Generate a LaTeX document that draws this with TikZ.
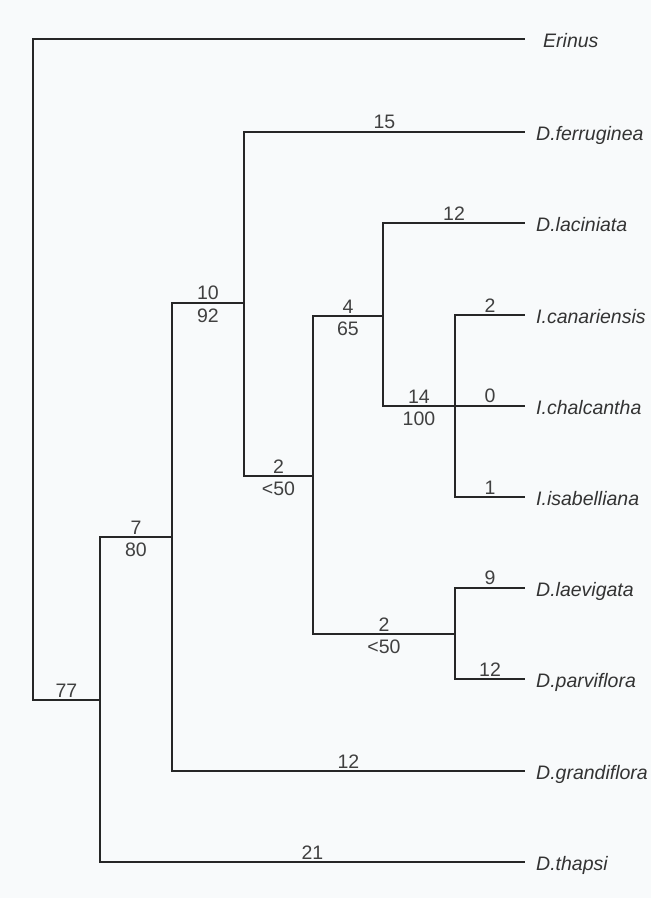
\documentclass[tikz,border=0pt]{standalone}
\usepackage{fontspec}
\setmainfont{Liberation Sans}
\definecolor{bgc}{RGB}{248,250,251}
\begin{document}
\begin{tikzpicture}[x=1pt,y=-1pt,
  br/.style={line width=1.8pt, draw=black!85, line join=miter},
  num/.style={font=\fontsize{19.5}{20}\selectfont, text=black!75, inner sep=2pt},
  numb/.style={num, yshift=-2.5pt},
  taxon/.style={anchor=base west, font=\fontsize{19.5}{21}\selectfont\itshape, text=black!80, inner sep=0pt, yshift=-8.5pt, xshift=11pt}]
\fill[bgc] (0,0) rectangle (651,898);
\useasboundingbox (0,0) rectangle (651,898);
% internal nodes
\coordinate (root) at (33,370);
\coordinate (n77) at (100,700);
\coordinate (n7) at (172,537);
\coordinate (n10) at (244,303);
\coordinate (n2a) at (313,476);
\coordinate (n4) at (383,316);
\coordinate (n14) at (455,406);
\coordinate (n2b) at (455,634);
% leaf ends
\coordinate (erin) at (525,39);
\coordinate (ferr) at (525,132);
\coordinate (laci) at (525,223);
\coordinate (cana) at (525,315);
\coordinate (chal) at (525,406);
\coordinate (isab) at (525,497);
\coordinate (laev) at (525,588);
\coordinate (parv) at (525,679);
\coordinate (gran) at (525,771);
\coordinate (thap) at (525,862);
% taxon labels
\node[taxon, xshift=7pt] (Lerin) at (erin) {Erinus};
\node[taxon] (Lferr) at (ferr) {D.ferruginea};
\node[taxon] (Llaci) at (laci) {D.laciniata};
\node[taxon] (Lcana) at (cana) {I.canariensis};
\node[taxon] (Lchal) at (chal) {I.chalcantha};
\node[taxon] (Lisab) at (isab) {I.isabelliana};
\node[taxon] (Llaev) at (laev) {D.laevigata};
\node[taxon] (Lparv) at (parv) {D.parviflora};
\node[taxon] (Lgran) at (gran) {D.grandiflora};
\node[taxon] (Lthap) at (thap) {D.thapsi};
% branches
\draw[br] (root) |- (erin);
\draw[br] (root) |- (n77) node[num, pos=0.75, above] {77};
\draw[br] (n77) |- (n7) node[num, pos=0.75, above] {7} node[numb, pos=0.75, below] {80};
\draw[br] (n77) |- (thap) node[num, pos=0.75, above] {21};
\draw[br] (n7) |- (n10) node[num, pos=0.75, above] {10} node[numb, pos=0.75, below] {92};
\draw[br] (n7) |- (gran) node[num, pos=0.75, above] {12};
\draw[br] (n10) |- (ferr) node[num, pos=0.75, above] {15};
\draw[br] (n10) |- (n2a) node[num, pos=0.75, above] {2} node[numb, pos=0.75, below] {<50};
\draw[br] (n2a) |- (n4) node[num, pos=0.75, above] {4} node[numb, pos=0.75, below] {65};
\draw[br] (n2a) |- (n2b) node[num, pos=0.75, above] {2} node[numb, pos=0.75, below] {<50};
\draw[br] (n4) |- (laci) node[num, pos=0.75, above] {12};
\draw[br] (n4) |- (n14) node[num, pos=0.75, above] {14} node[numb, pos=0.75, below] {100};
\draw[br] (n14) |- (cana) node[num, pos=0.75, above] {2};
\draw[br] (n14) -- (chal) node[num, midway, above] {0};
\draw[br] (n14) |- (isab) node[num, pos=0.75, above] {1};
\draw[br] (n2b) |- (laev) node[num, pos=0.75, above] {9};
\draw[br] (n2b) |- (parv) node[num, pos=0.75, above] {12};
\end{tikzpicture}
\end{document}
